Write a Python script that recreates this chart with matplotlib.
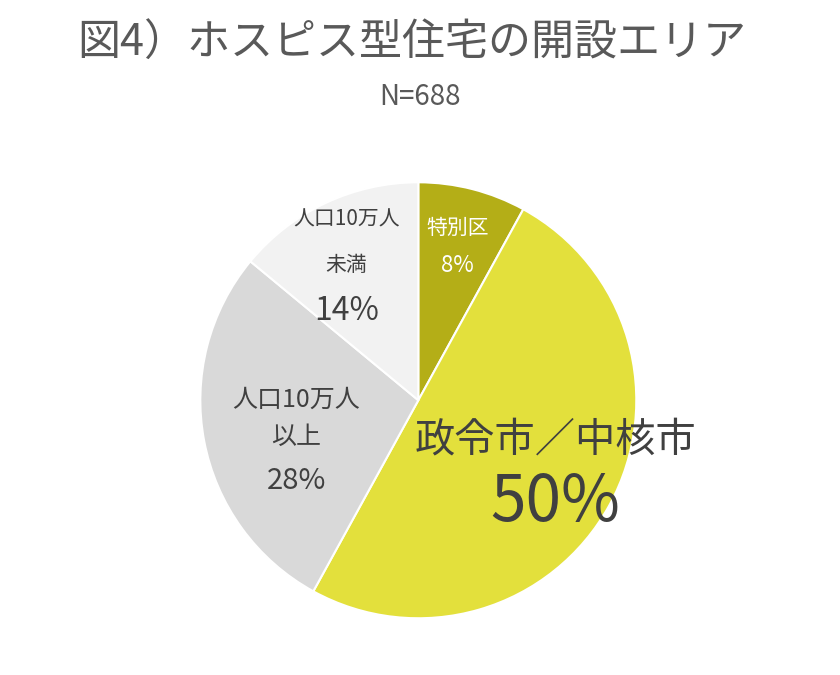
import matplotlib.pyplot as plt

plt.rcParams['font.family'] = ['Noto Sans CJK JP', 'DejaVu Sans']

# data
labels = ['特別区', '政令市／中核市', '人口10万人以上', '人口10万人未満']
shares = [8, 50, 28, 14]
colors = ['#b4ae17', '#e3e03c', '#d9d9d9', '#f2f2f2']

fig = plt.figure(figsize=(8.4, 6.75), dpi=100)
fig.text(0.49, 0.935, '図4）ホスピス型住宅の開設エリア', ha='center', va='center',
         fontsize=31, color='#595959')
fig.text(0.5, 0.856, 'N=688', ha='center', va='center', fontsize=20, color='#595959')

ax = fig.add_axes([0.2385, 0.084, 0.519, 0.646])
ax.pie(shares, colors=colors, startangle=90, counterclock=False,
       wedgeprops=dict(edgecolor='white', linewidth=1.5))
ax.set_xlim(-1, 1)
ax.set_ylim(-1, 1)

c = '#404040'
ax.text(0.18, 0.79, labels[0], ha='center', va='center', fontsize=15, color='white')
ax.text(0.18, 0.62, f'{shares[0]}%', ha='center', va='center', fontsize=16, color='white')

ax.text(-0.33, 0.83, '人口10万人', ha='center', va='center', fontsize=15, color=c)
ax.text(-0.33, 0.62, '未満', ha='center', va='center', fontsize=15, color=c)
ax.text(-0.33, 0.41, f'{shares[3]}%', ha='center', va='center', fontsize=23, color=c)

ax.text(-0.56, 0.0, '人口10万人', ha='center', va='center', fontsize=18, color=c)
ax.text(-0.56, -0.17, '以上', ha='center', va='center', fontsize=18, color=c)
ax.text(-0.56, -0.37, f'{shares[2]}%', ha='center', va='center', fontsize=21, color=c)

ax.text(0.63, -0.18, labels[1], ha='center', va='center', fontsize=29, color=c)
ax.text(0.63, -0.47, f'{shares[1]}%', ha='center', va='center', fontsize=46, color=c)

fig.savefig('out.png', dpi=100, facecolor='white')
